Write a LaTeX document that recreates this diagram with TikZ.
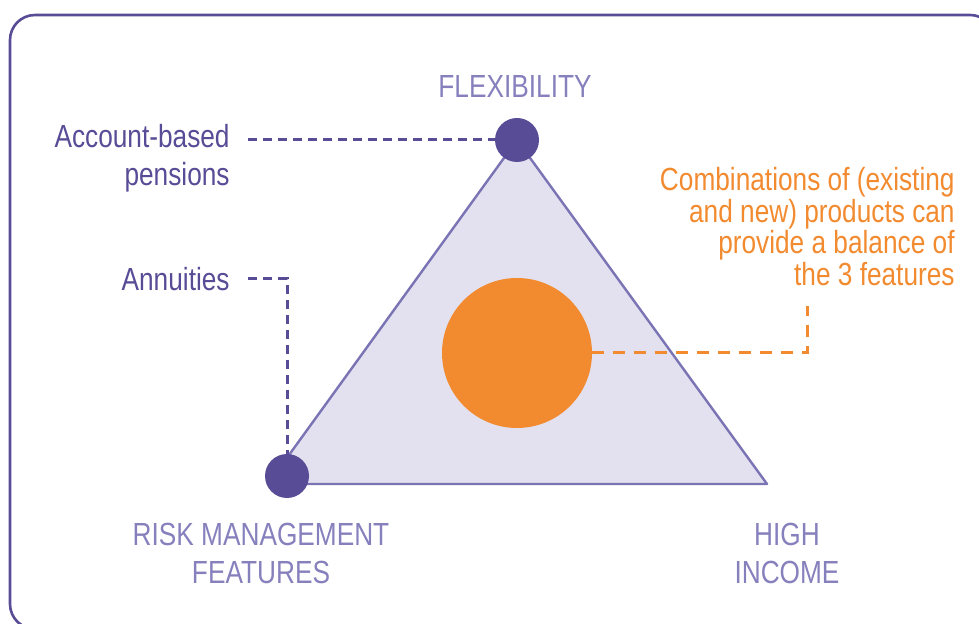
\documentclass[tikz,border=0pt]{standalone}
\usepackage{fontspec}
\setmainfont[FakeStretch=0.82]{Liberation Sans}
\usetikzlibrary{positioning, calc}

\definecolor{morado}{HTML}{594C96}
\definecolor{lila}{HTML}{8680BD}
\definecolor{lilaborde}{HTML}{7A73B4}
\definecolor{lilafondo}{HTML}{E3E1EF}
\definecolor{naranja}{HTML}{F28B30}

\begin{document}
\begin{tikzpicture}[x=0.5pt, y=-0.5pt,
		etiqueta/.style={font=\fontsize{16}{19}\selectfont, inner sep=0pt},
		vertice/.style={circle, fill=morado, minimum size=22pt, inner sep=0pt},
		guia/.style={morado, line width=1.5pt, dash pattern=on 4.5pt off 3pt},
		guianaranja/.style={naranja, line width=1.5pt, dash pattern=on 6pt off 4.5pt}]
		
		% Marco de la figura (en píxeles)
		\useasboundingbox (0,0) rectangle (979,624);
		\clip (0,0) rectangle (979,624);
		\draw[morado, line width=1.3pt, rounded corners=12.5pt] (10,15) rectangle (995,629);
		
		% --- 1. TRIÁNGULO ---
		\coordinate (A) at (517,140);
		\coordinate (B) at (268,484);
		\coordinate (C) at (767,484);
		\draw[lilaborde, fill=lilafondo, line width=1.2pt, line join=round] (A) -- (B) -- (C) -- cycle;
		
		% --- 2. PUNTOS ---
		\node[vertice] (flex) at (A) {};
		\node[vertice] (riesgo) at (287,476) {};
		\node[circle, fill=naranja, minimum size=75pt, inner sep=0pt] (mezcla) at (517,353) {};
		
		% --- 3. ETIQUETAS ---
		\node[etiqueta, lila] (tflex) at (515,86) {FLEXIBILITY};
		\node[etiqueta, lila, align=center] (triesgo) at (261,553) {RISK MANAGEMENT\\FEATURES};
		\node[etiqueta, lila, align=center] (tingreso) at (787,553) {HIGH\\INCOME};
		
		\node[etiqueta, morado, align=right, anchor=east] (cuenta) at (230,158) {Account-based\\pensions};
		\node[etiqueta, morado, anchor=east] (anual) at (230,279) {Annuities};
		
		\node[etiqueta, naranja, align=right, anchor=east, font=\fontsize{16}{15.85}\selectfont] (nota) at (955,226.5)
		{Combinations of (existing\\and new) products can\\provide a balance of\\the 3 features};
		
		% --- 4. LÍNEAS DISCONTINUAS ---
		\draw[guia, shorten <=9pt] (cuenta.east |- flex) -- (flex.west);
		\draw[guia, shorten <=9pt] (anual.east) -| (riesgo.north);
		\draw[guianaranja, shorten >=10pt] (mezcla.east) -| (nota.south);
		
	\end{tikzpicture}
\end{document}
